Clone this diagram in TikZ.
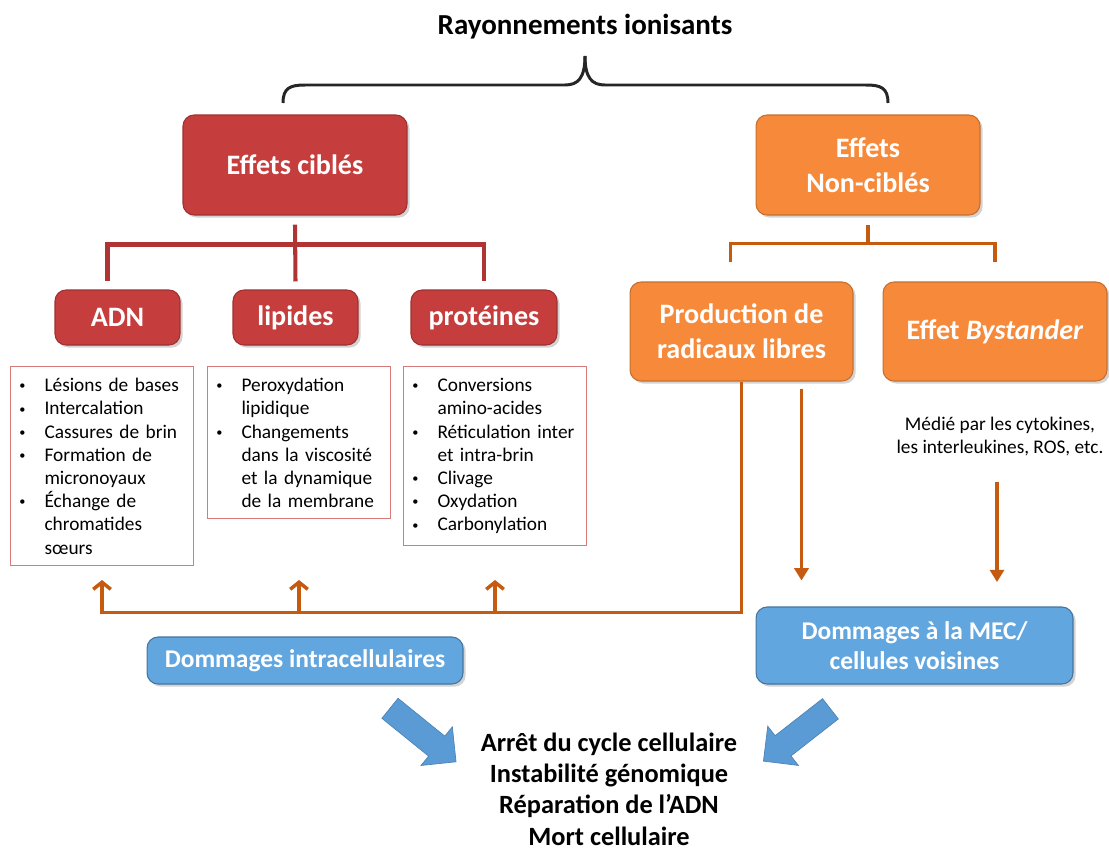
\documentclass[tikz,border=0pt]{standalone}
\usepackage{fontspec}
\setmainfont{Carlito}
\usepackage{enumitem}
\setlist[itemize]{label=\raisebox{0.2ex}{\scriptsize\textbullet}, leftmargin=0.6cm, labelsep=0.38cm, nosep}
\usetikzlibrary{positioning,calc,arrows.meta,shapes.arrows,shadows}

\definecolor{rouge}{HTML}{C63D3D}
\definecolor{rougetrait}{HTML}{B03434}
\definecolor{rougecadre}{HTML}{D77A7A}
\definecolor{orangeboite}{HTML}{F68A3A}
\definecolor{orangetrait}{HTML}{C55A11}
\definecolor{bleuboite}{HTML}{62A6E0}
\definecolor{bleufleche}{HTML}{5B9BD5}

\newcommand{\debutliste}{\raggedright\vspace*{-5.1pt}}

\tikzset{
  boite/.style={rounded corners=0.22cm, inner sep=0, text=white, align=center,
    font=\bfseries\fontsize{16}{19.8}\selectfont,
    drop shadow={opacity=0.35, shadow xshift=1.5pt, shadow yshift=-1.5pt}},
  rougeboite/.style={boite, fill=rouge, draw=rouge!80!black, line width=0.6pt},
  orboite/.style={boite, fill=orangeboite, draw=orangeboite!80!black, line width=0.6pt},
  blboite/.style={boite, fill=bleuboite, draw=bleuboite!70!black, line width=0.6pt,
    font=\bfseries\fontsize{14.5}{17}\selectfont},
  liste/.style={draw=rougecadre, line width=0.6pt, anchor=north west, text width=3.5cm,
    inner xsep=0.08cm, inner ysep=0.22cm, font=\fontsize{11}{13.2}\selectfont},
  rline/.style={draw=rougetrait, line width=2.3pt},
  oline/.style={draw=orangetrait, line width=2pt},
  accolade/.style={draw=black!85, line width=1.7pt, line join=round},
  fleche/.style={single arrow, fill=bleufleche, draw=bleufleche!85!black, inner sep=0.25cm,
    minimum height=1.7cm, single arrow head extend=0.24cm}
}

\begin{document}
\begin{tikzpicture}[x=0.02cm,y=-0.02cm]
\useasboundingbox (0,0) rectangle (1109,849);

% title and brace
\node[font=\bfseries\fontsize{16.5}{20}\selectfont] (titre) at (585,27) {Rayonnements ionisants};
\coordinate (pointe) at (585,56);
\draw[accolade] (283,103) .. controls (283,88) and (290,85) .. (305,85) -- (565,85)
  .. controls (578,85) and (585,78) .. (pointe);
\draw[accolade] (888,103) .. controls (888,88) and (881,85) .. (866,85) -- (605,85)
  .. controls (592,85) and (585,78) .. (pointe);

% main boxes
\node[rougeboite, minimum width=4.48cm, minimum height=2cm] (cibles) at (295,165) {Effets ciblés};
\node[orboite, minimum width=4.48cm, minimum height=2cm] (noncibles) at (868,165) {Effets\\Non-ciblés};

% targets
\node[rougeboite, minimum width=2.5cm, minimum height=1.1cm] (adn) at (117.5,317.5) {ADN};
\node[rougeboite, minimum width=2.5cm, minimum height=1.1cm] (lip) at (295.5,317.5) {lipides};
\node[rougeboite, minimum width=2.92cm, minimum height=1.1cm] (prot) at (484,317.5) {protéines};
\node[orboite, minimum width=4.46cm, minimum height=1.98cm] (prod) at (741.5,331.5) {Production de\\radicaux libres};
\node[orboite, minimum width=4.48cm, minimum height=1.98cm] (byst) at (995,331.5) {Effet \textit{Bystander}};

% tree lines
\draw[rline] ($(cibles.south)+(0,9)$) -- ($(lip.north)+(0,-8)$);
\draw[rline] ($(adn.north)+(-10,-8)$) |- ($(prot.north)+(0,-45)$) -- ($(prot.north)+(0,-8)$);
\draw[oline] ($(noncibles.south)+(0,9)$) -- ($(noncibles.south)+(0,29)$);
\draw[oline] ($(prod.north)+(-11,-19)$) |- ($(byst.north)+(0,-38)$) -- ($(byst.north)+(0,-19)$);

% lists
\node[liste] (adnliste) at (10,366) {\debutliste
  \begin{itemize}
  \item Lésions de bases
  \item Intercalation
  \item Cassures de brin
  \item Formation de\newline micronoyaux
  \item Échange de\newline chromatides\newline sœurs
  \end{itemize}};
\node[liste] (lipliste) at (207,366) {\debutliste
  \begin{itemize}
  \item Peroxydation\newline lipidique
  \item Changements\newline dans la viscosité\newline et la dynamique\newline de la membrane
  \end{itemize}};
\node[liste] (protliste) at (403,366) {\debutliste
  \begin{itemize}
  \item Conversions\newline amino-acides
  \item Réticulation inter\newline et intra-brin
  \item Clivage
  \item Oxydation
  \item Carbonylation
  \end{itemize}};

% bystander note
\node[font=\fontsize{11}{13}\selectfont, align=center] (mediation) at (1000,436.5)
  {Médié par les cytokines,\\les interleukines, ROS, etc.};

% damage boxes
\node[blboite, minimum width=6.32cm, minimum height=0.94cm] (intra) at (305,660.5) {Dommages intracellulaires};
\node[blboite, minimum width=6.34cm, minimum height=1.54cm] (mec) at (914.5,645.5) {Dommages à la MEC/\\cellules voisines};

% back to targets
\coordinate (niveau) at (0,580);
\coordinate (coude) at ($(prod.south)+(0,231)$);
\draw[oline,-{Straight Barb[length=4pt,width=10pt]}] (prod.south) -- (coude) -| (adnliste.south |- niveau);
\draw[oline,-{Straight Barb[length=4pt,width=10pt]}] (lipliste.south |- coude) -- (lipliste.south |- niveau);
\draw[oline,-{Straight Barb[length=4pt,width=10pt]}] (protliste.south |- coude) -- (protliste.south |- niveau);

% down to neighbours
\draw[oline,-{Triangle[length=7pt,width=8pt]}] ($(prod.south)+(60,7)$) -- ($(prod.south)+(60,199)$);
\draw[oline,-{Triangle[length=7pt,width=8pt]}] ($(mediation.south)+(-3,20)$) -- ($(mediation.south)+(-3,120)$);

% outcome
\node[fleche, rotate=-39] (fg) at (418,731) {};
\node[fleche, rotate=-142] (fd) at (802,731) {};
\node[font=\bfseries\fontsize{15}{17.8}\selectfont, align=center] (issue) at (609,789)
  {Arrêt du cycle cellulaire\\Instabilité génomique\\Réparation de l’ADN\\Mort cellulaire};

\end{tikzpicture}
\end{document}
